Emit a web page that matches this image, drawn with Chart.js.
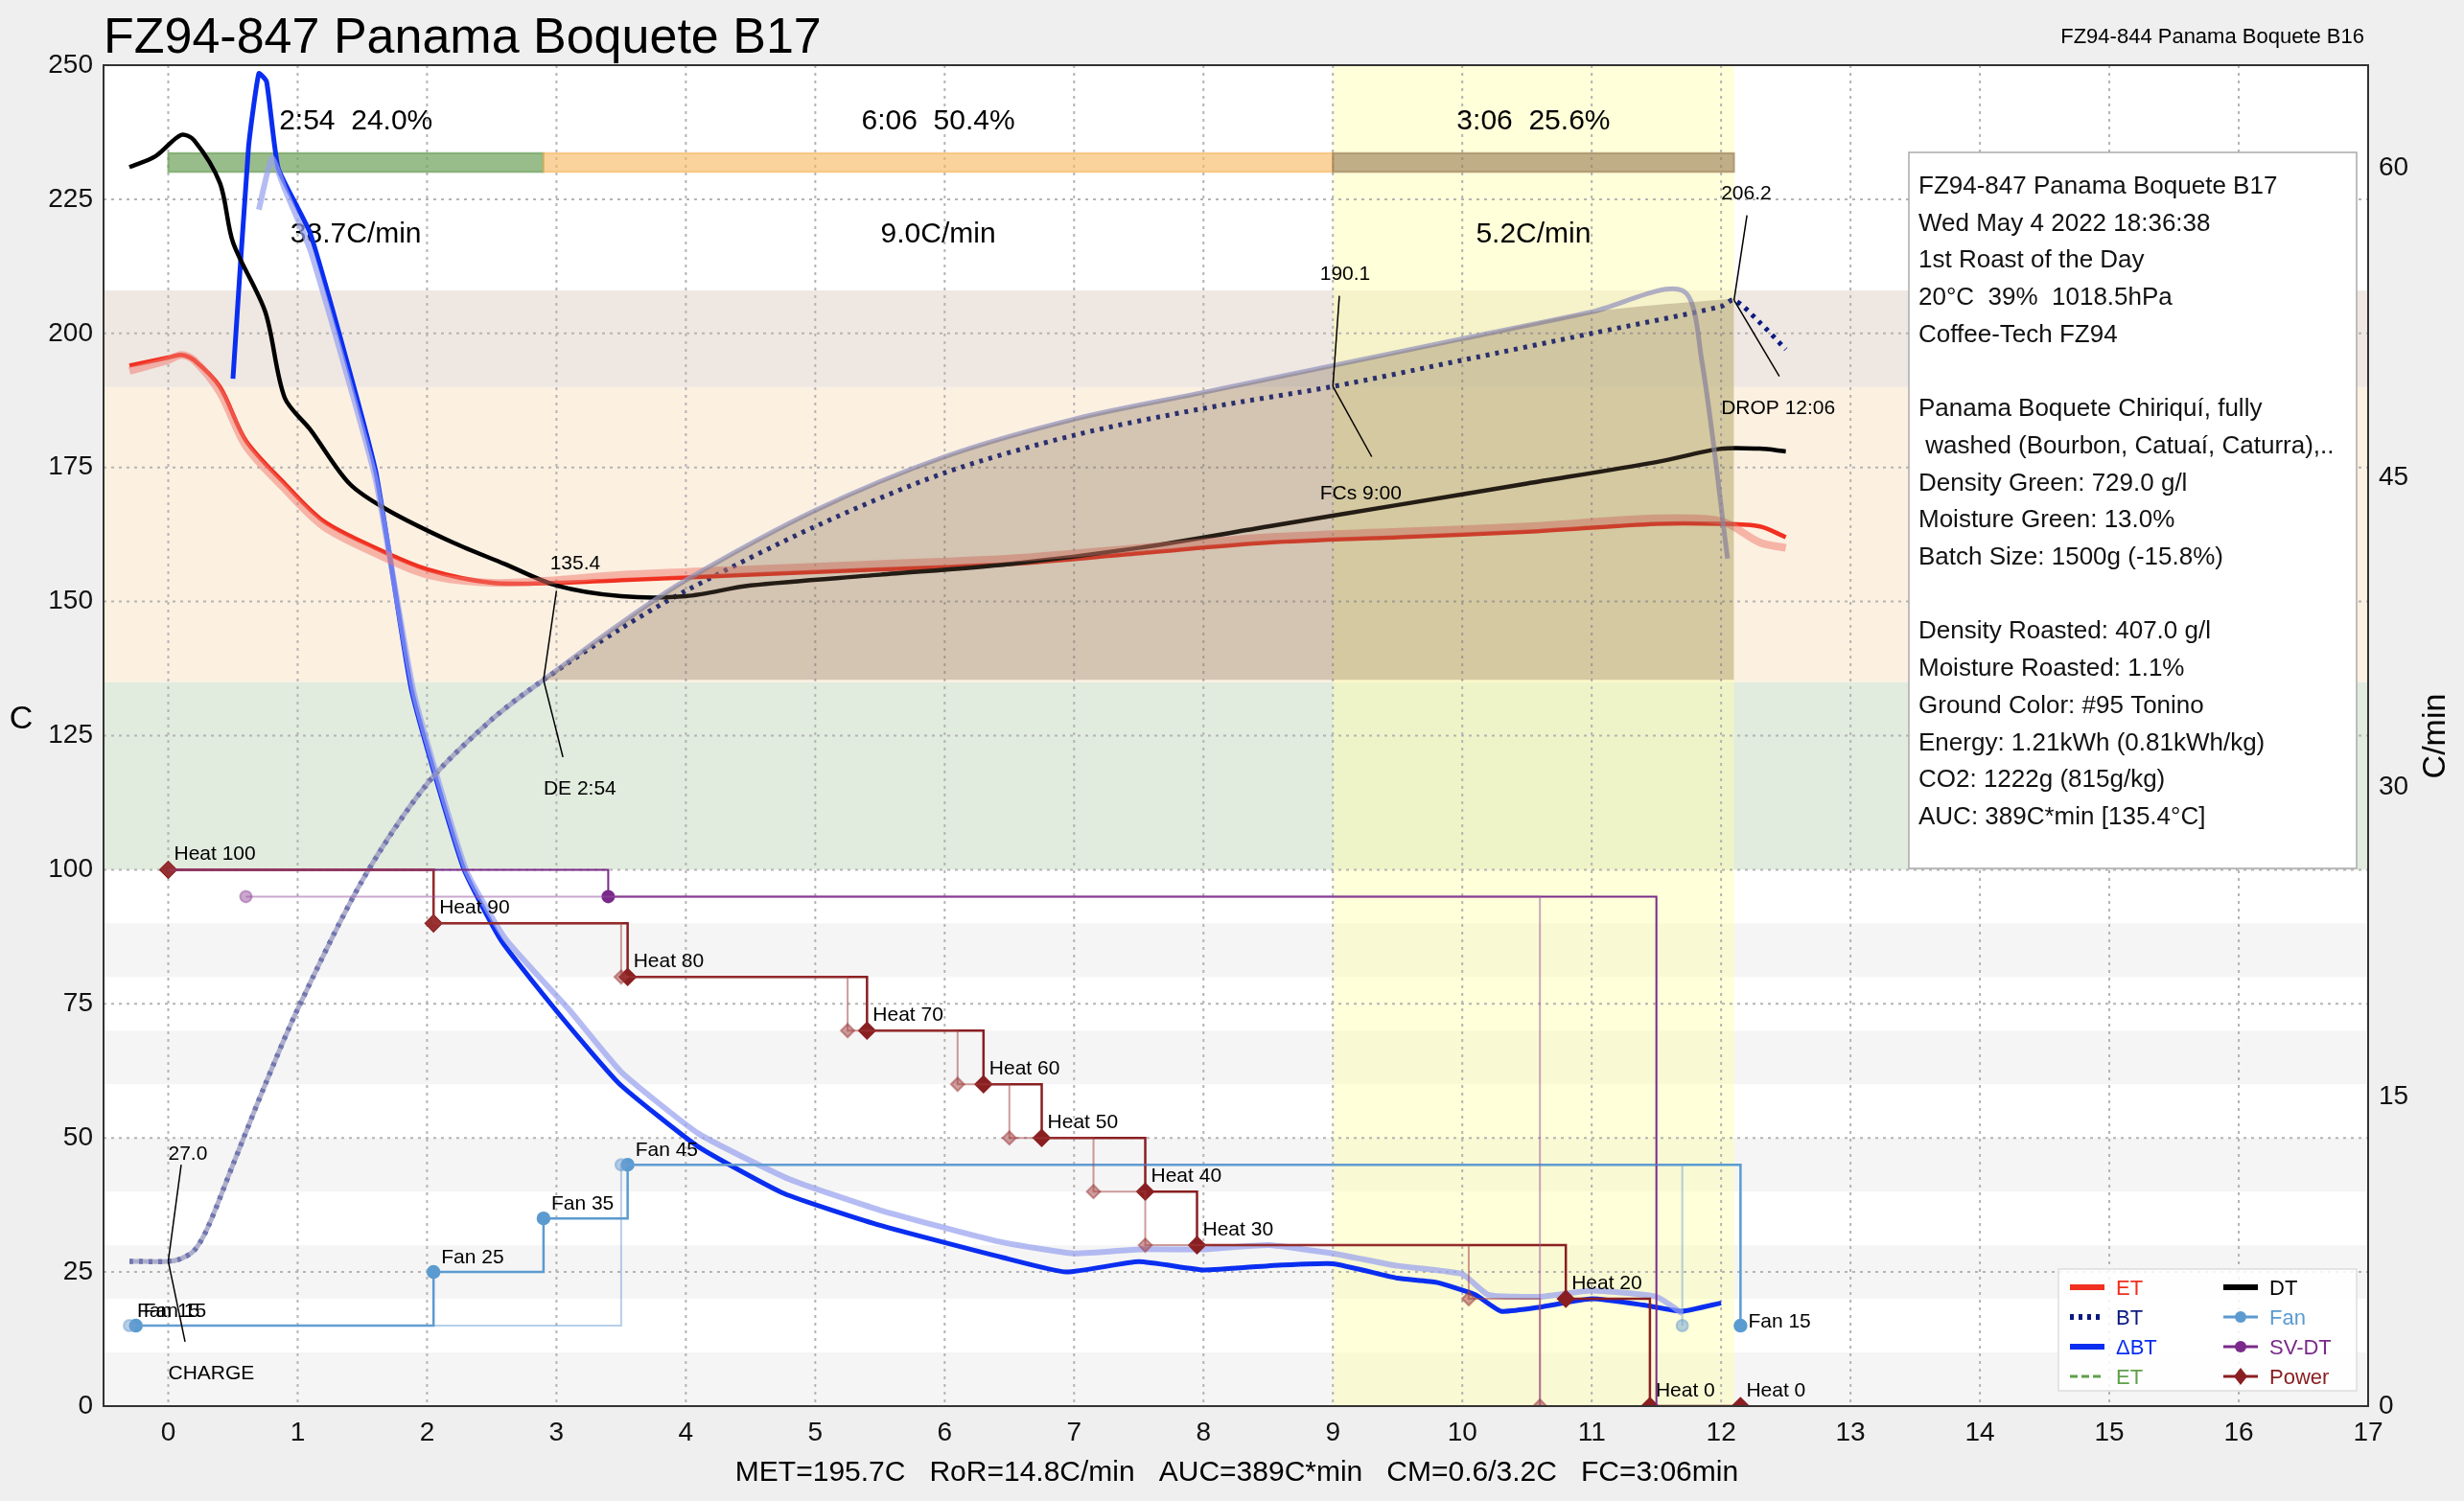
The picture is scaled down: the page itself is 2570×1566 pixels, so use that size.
<!DOCTYPE html>
<html><head><meta charset="utf-8">
<script src="https://cdn.jsdelivr.net/npm/chart.js@4/dist/chart.umd.min.js"></script>
<style>html,body{margin:0;padding:0;background:#efefef;overflow:hidden}canvas{display:block}</style>
</head><body><canvas id="c" width="2570" height="1566"></canvas>
<script>
// time in minutes, temps in C
const btTime = [-0.3,0,0.1,0.2,0.3,0.5,0.75,1,1.5,2,2.5,2.9,3.5,4,5,6,7,8,9,10,11,12,12.1,12.3,12.5];
const btVals = [27,27,27.5,29,33,45,60,74,98,116,128,135.4,145,152,164,174,181,186,190.1,195,200,205,206.2,202,197];
const btBgTime = [-0.3,0,0.1,0.2,0.3,0.5,0.75,1,1.5,2,2.5,2.9,3.5,4,5,6,7,8,9,10,11,11.7,11.85,12.05];
const btBgVals = [27,27,27.5,29,33,45,60,74,98,116,128,135.4,146,154,167,177,184,189,194,199,204,208,195,158];
const etTime = [-0.3,0,0.1,0.2,0.4,0.6,0.9,1.2,1.6,2,2.5,3,3.5,4.5,5.5,6.5,7.5,8.5,9.5,10.5,11.5,12,12.3,12.5];
const etVals = [194,195.5,196,195,190,180,172,165,160,156,153.5,153.5,154,155,156,157,159,161,162,163,164.5,164.5,164,162];
const etBgVals = [193,195,196,195,189,179,171,164,159,155,153.5,154,155,156,157,158,160,162,163,164,165.5,165,161,160];
const dtTime = [-0.3,-0.1,0.1,0.2,0.4,0.5,0.75,0.9,1.1,1.4,1.7,2.2,2.6,3,3.5,4,4.5,5.5,6.5,7.5,8.5,9.5,10.5,11.5,12,12.3,12.5];
const dtVals = [231,233,237,236,228,217,204,188,182,172,167,161,157,153,151,151,153,155,157,160,164,168,172,176,178.5,178.5,178];
const rorTime = [0.5,0.62,0.7,0.76,0.85,1.1,1.6,1.88,2.28,2.58,3.06,3.49,4.09,4.76,5.48,6.45,6.94,7.5,8,8.5,9,9.5,9.8,10.1,10.3,10.6,11,11.4,11.7,12];
const rorVals = [49.8,61,64.6,64.2,60,56.8,45.4,34.7,26.1,22.5,18.7,15.6,12.6,10.3,8.8,7.2,6.5,7.0,6.6,6.8,6.9,6.2,6.0,5.4,4.6,4.8,5.2,4.9,4.6,5.0];
const rorBgTime = [0.7,0.8,0.9,1.1,1.6,1.9,2.3,2.6,3.1,3.5,4.1,4.8,5.5,6.4,7,7.5,8,8.5,9,9.5,10,10.2,10.6,11,11.5,11.7];
const rorBgVals = [58,60.5,59,56,45,34.5,26,22.7,19.2,16.2,13.2,11,9.5,8,7.4,7.6,7.6,7.8,7.4,6.8,6.4,5.4,5.3,5.6,5.3,4.5];
const fanTime = [-0.25,2.05,2.9,3.55,12.15];
const fanVals = [15,25,35,45,15];
const fanBgTime = [-0.3,3.5,11.7];
const fanBgVals = [15,45,15];
const powerTime = [0,2.05,3.55,5.4,6.3,6.75,7.55,7.95,10.8,11.45,12.15];
const powerVals = [100,90,80,70,60,50,40,30,20,0,0];
const powerLabels = ['Heat 100','Heat 90','Heat 80','Heat 70','Heat 60','Heat 50','Heat 40','Heat 30','Heat 20','Heat 0','Heat 0'];
const powerBgTime = [0,2.05,3.5,5.25,6.1,6.5,7.15,7.55,10.05,10.6];
const powerBgVals = [100,90,80,70,60,50,40,30,20,0];
const svTime = [0,3.4,11.5];
const svVals = [100,95,0];
const svBgTime = [0.6,10.6];
const svBgVals = [95,0];
const fanLabels = ['Fan 15','Fan 25','Fan 35','Fan 45','Fan 15'];
const phaseEdges = [0,2.9,9,12.1];
const phaseTop = ['2:54  24.0%','6:06  50.4%','3:06  25.6%'];
const phaseRate = ['38.7C/min','9.0C/min','5.2C/min'];
const infoLines = ['FZ94-847 Panama Boquete B17','Wed May 4 2022 18:36:38','1st Roast of the Day','20°C  39%  1018.5hPa','Coffee-Tech FZ94','','Panama Boquete Chiriquí, fully',' washed (Bourbon, Catuaí, Caturra),..','Density Green: 729.0 g/l','Moisture Green: 13.0%','Batch Size: 1500g (-15.8%)','','Density Roasted: 407.0 g/l','Moisture Roasted: 1.1%','Ground Color: #95 Tonino','Energy: 1.21kWh (0.81kWh/kg)','CO2: 1222g (815g/kg)','AUC: 389C*min [135.4°C]'];

const pts = (xs, ys) => xs.map((x, i) => ({x, y: ys[i]}));
const F = 'Liberation Sans, Arial, sans-serif';
const aucIdx = btBgTime.indexOf(2.9);
const aucTime = btBgTime.slice(aucIdx, -3).concat([12.1]);
const aucVals = btBgVals.slice(aucIdx, -3).concat([206.5]);

const bgPlugin = {
  id: 'bg',
  beforeDatasetsDraw(chart) {
    const {ctx, chartArea: a, scales: {x, y}} = chart;
    ctx.save();
    ctx.fillStyle = '#fff'; ctx.fillRect(a.left, a.top, a.width, a.height);
    const band = (lo, hi, c) => { ctx.fillStyle = c; ctx.fillRect(a.left, y.getPixelForValue(hi), a.width, y.getPixelForValue(lo) - y.getPixelForValue(hi)); };
    [0, 20, 40, 60, 80].forEach(v => band(v, v + 10, '#f5f5f5'));
    band(100, 135, '#e1ebde'); band(135, 190, '#fcf0e1'); band(190, 208, '#efe7e2');
    ctx.fillStyle = 'rgba(255,255,170,0.45)';
    ctx.fillRect(x.getPixelForValue(9), a.top, x.getPixelForValue(12.1) - x.getPixelForValue(9), a.height);
    ctx.strokeStyle = '#b4b4b4'; ctx.lineWidth = 2; ctx.setLineDash([3, 5]);
    for (let v = 0; v <= 17; v++) { const p = x.getPixelForValue(v); ctx.beginPath(); ctx.moveTo(p, a.top); ctx.lineTo(p, a.bottom); ctx.stroke(); }
    for (let v = 25; v < 250; v += 25) { const p = y.getPixelForValue(v); ctx.beginPath(); ctx.moveTo(a.left, p); ctx.lineTo(a.right, p); ctx.stroke(); }
    ctx.setLineDash([]);
    const cols = ['rgba(110,160,90,0.7)', 'rgba(245,180,90,0.6)', 'rgba(150,120,80,0.6)'];
    const yt = y.getPixelForValue(233.6), yb = y.getPixelForValue(230.1);
    ctx.font = '30px ' + F; ctx.textAlign = 'center';
    for (let i = 0; i < 3; i++) {
      const x0 = x.getPixelForValue(phaseEdges[i]), x1 = x.getPixelForValue(phaseEdges[i + 1]);
      ctx.fillStyle = cols[i]; ctx.fillRect(x0, yt, x1 - x0, yb - yt);
      ctx.strokeStyle = cols[i]; ctx.strokeRect(x0, yt, x1 - x0, yb - yt);
      ctx.fillStyle = '#000';
      ctx.fillText(phaseTop[i], (x0 + x1) / 2, y.getPixelForValue(238));
      ctx.fillText(phaseRate[i], (x0 + x1) / 2, y.getPixelForValue(217));
    }
    ctx.restore();
  },
  afterDatasetsDraw(chart) {
    const {ctx, chartArea: a, scales: {x, y}} = chart;
    ctx.save();
    ctx.fillStyle = '#000'; ctx.strokeStyle = '#000'; ctx.lineWidth = 1.5;
    ctx.font = '21px ' + F;
    const ann = (px, py, tx, ty, text, lx, ly) => {
      ctx.beginPath(); ctx.moveTo(x.getPixelForValue(px), y.getPixelForValue(py)); ctx.lineTo(x.getPixelForValue(lx), y.getPixelForValue(ly)); ctx.stroke();
      ctx.textAlign = 'left'; ctx.fillText(text, x.getPixelForValue(tx), y.getPixelForValue(ty));
    };
    ann(0, 27, 0, 46, '27.0', 0.1, 45);
    ann(0, 27, 0, 5, 'CHARGE', 0.13, 12);
    ann(2.9, 135.4, 2.95, 156, '135.4', 3.0, 152);
    ann(2.9, 135.4, 2.9, 114, 'DE 2:54', 3.05, 121);
    ann(9, 190.1, 8.9, 210, '190.1', 9.05, 207);
    ann(9, 190.1, 8.9, 169, 'FCs 9:00', 9.3, 177);
    ann(12.1, 206.2, 12.0, 225, '206.2', 12.2, 222);
    ann(12.1, 206.2, 12.0, 185, 'DROP 12:06', 12.45, 192);
    ctx.textAlign = 'left';
    powerTime.forEach((t, i) => ctx.fillText(powerLabels[i], x.getPixelForValue(t) + 6, y.getPixelForValue(powerVals[i]) - 10));
    fanTime.forEach((t, i) => ctx.fillText(fanLabels[i], x.getPixelForValue(t) + 8, y.getPixelForValue(fanVals[i]) - 9 + (i === 4 ? 11 : 0)));
    ctx.fillText('Fan 15', x.getPixelForValue(-0.3) + 8, y.getPixelForValue(15) - 9);
    const bx = 1991, by = 159, bw = 467, bh = 747;
    ctx.fillStyle = '#fff'; ctx.fillRect(bx, by, bw, bh);
    ctx.strokeStyle = '#aaa'; ctx.lineWidth = 1.5; ctx.strokeRect(bx, by, bw, bh);
    ctx.fillStyle = '#111'; ctx.font = '26px ' + F;
    infoLines.forEach((l, i) => ctx.fillText(l, bx + 10, by + 43 + i * 38.7));
    const lx = 2147, ly = 1324, lw = 311, lh = 127;
    ctx.fillStyle = 'rgba(255,255,255,0.85)'; ctx.fillRect(lx, ly, lw, lh);
    ctx.strokeStyle = '#ddd'; ctx.strokeRect(lx, ly, lw, lh);
    const items = [
      ['ET', '#f03020', 'solid', null, 0, 0], ['BT', '#0a1a80', 'dot', null, 0, 1], ['\u0394BT', '#0a2ef0', 'solid', null, 0, 2], ['ET', '#5fa04a', 'dash', null, 0, 3],
      ['DT', '#000', 'solid', null, 1, 0], ['Fan', '#5b9bd0', 'thin', 'o', 1, 1], ['SV-DT', '#7a2a8a', 'thin', 'o', 1, 2], ['Power', '#8a1f22', 'thin', 'd', 1, 3]];
    ctx.font = '22px ' + F;
    items.forEach(([t, c, st, mk, col, row]) => {
      const x0 = lx + 12 + col * 160, yy = ly + 19 + row * 31;
      ctx.strokeStyle = c; ctx.lineWidth = st === 'thin' || st === 'dash' ? 3 : 6;
      ctx.setLineDash(st === 'dot' ? [4, 5] : st === 'dash' ? [8, 4] : []);
      ctx.beginPath(); ctx.moveTo(x0, yy); ctx.lineTo(x0 + 36, yy); ctx.stroke(); ctx.setLineDash([]);
      ctx.fillStyle = c;
      if (mk === 'o') { ctx.beginPath(); ctx.arc(x0 + 18, yy, 6, 0, 7); ctx.fill(); }
      if (mk === 'd') { ctx.beginPath(); ctx.moveTo(x0 + 18, yy - 9); ctx.lineTo(x0 + 25, yy); ctx.lineTo(x0 + 18, yy + 9); ctx.lineTo(x0 + 11, yy); ctx.fill(); }
      ctx.fillText(t, x0 + 48, yy + 8);
    });
    ctx.fillStyle = '#000'; ctx.font = '52px ' + F; ctx.textAlign = 'left';
    ctx.fillText('FZ94-847 Panama Boquete B17', 108, 55);
    ctx.font = '22px ' + F; ctx.textAlign = 'right';
    ctx.fillText('FZ94-844 Panama Boquete B16', 2466, 45);
    ctx.textAlign = 'center'; ctx.font = '30px ' + F;
    ctx.fillText('MET=195.7C   RoR=14.8C/min   AUC=389C*min   CM=0.6/3.2C   FC=3:06min', 1290, 1545);
    ctx.font = '34px ' + F;
    ctx.fillText('C', 22, 760);
    ctx.save(); ctx.translate(2550, 768); ctx.rotate(-Math.PI / 2); ctx.fillText('C/min', 0, 0); ctx.restore();
    ctx.strokeStyle = '#333'; ctx.lineWidth = 2; ctx.strokeRect(a.left, a.top, a.width, a.height);
    ctx.restore();
  }
};

const line = (data, color, width, extra) => Object.assign({data, borderColor: color, backgroundColor: color, borderWidth: width, pointRadius: 0, tension: 0.3, fill: false}, extra || {});

new Chart(document.getElementById('c'), {
  type: 'line',
  data: {datasets: [
    line(pts(aucTime, aucVals), 'rgba(0,0,0,0)', 0, {fill: {value: 135.4}, backgroundColor: 'rgba(120,95,70,0.3)'}),
    line(pts(svBgTime, svBgVals), 'rgba(150,80,160,0.5)', 2, {stepped: 'before', tension: 0, pointRadius: [6, 0]}),
    line(pts(powerBgTime, powerBgVals), 'rgba(160,60,60,0.5)', 2, {stepped: 'before', tension: 0, pointRadius: 7, pointStyle: 'rectRot'}),
    line(pts(fanBgTime, fanBgVals), 'rgba(110,160,210,0.5)', 2, {stepped: 'before', tension: 0, pointRadius: 6}),
    line(pts(svTime, svVals), '#7a2a8a', 2, {stepped: 'before', tension: 0, pointRadius: [0, 6, 0]}),
    line(pts(powerTime, powerVals), '#8a1f22', 2.5, {stepped: 'before', tension: 0, pointRadius: 8, pointStyle: 'rectRot'}),
    line(pts(fanTime, fanVals), '#5b9bd0', 2.5, {stepped: 'before', tension: 0, pointRadius: 6}),
    line(pts(btBgTime, btBgVals), 'rgba(150,150,190,0.75)', 5),
    line(pts(etTime, etBgVals), 'rgba(240,120,110,0.5)', 8),
    line(pts(rorBgTime, rorBgVals), 'rgba(150,160,240,0.7)', 6, {yAxisID: 'y2', tension: 0.15}),
    line(pts(dtTime, dtVals), '#000', 4.5),
    line(pts(etTime, etVals), '#f03020', 4.5),
    line(pts(btTime, btVals), '#0a1a80', 5, {borderDash: [4, 6]}),
    line(pts(rorTime, rorVals), '#0a2ef0', 5, {yAxisID: 'y2', tension: 0.15})
  ]},
  options: {
    responsive: false, animation: false,
    layout: {padding: {left: 10, top: 68, right: 0, bottom: 0}},
    plugins: {legend: {display: false}, tooltip: {enabled: false}},
    scales: {
      x: {type: 'linear', min: -0.5, max: 17,
        afterBuildTicks: s => { s.ticks = Array.from({length: 18}, (_, i) => ({value: i})); },
        afterFit: s => { s.height = 99; },
        grid: {display: false}, border: {display: false},
        ticks: {font: {size: 28, family: F}, color: '#111', autoSkip: false, maxRotation: 0}},
      y: {min: 0, max: 250, position: 'left',
        afterFit: s => { s.width = 98; },
        afterBuildTicks: s => { s.ticks = Array.from({length: 11}, (_, i) => ({value: i * 25})); },
        grid: {display: false}, border: {display: false},
        ticks: {font: {size: 28, family: F}, color: '#111'}},
      y2: {min: 0, max: 65, position: 'right',
        afterFit: s => { s.width = 100; },
        afterBuildTicks: s => { s.ticks = [0, 15, 30, 45, 60].map(v => ({value: v})); },
        grid: {display: false}, border: {display: false},
        ticks: {font: {size: 28, family: F}, color: '#111'}}
    }
  },
  plugins: [bgPlugin]
});
</script>
</body></html>
